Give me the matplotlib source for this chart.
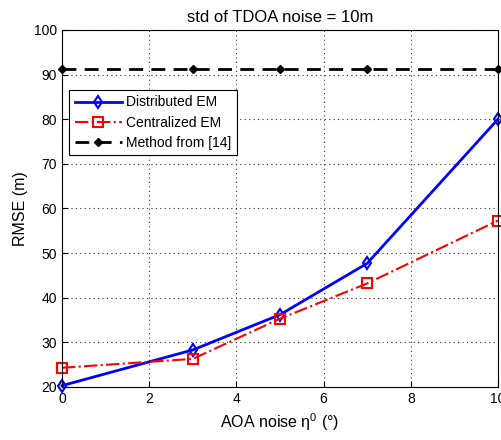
import matplotlib
matplotlib.use('Agg')
import matplotlib.pyplot as plt

# data
aoa_noise = [0, 3, 5, 7, 10]
rmse_distributed = [20.3, 28.3, 36.2, 47.7, 80.0]
rmse_centralized = [24.3, 26.3, 35.3, 43.2, 57.3]
rmse_method14 = [91.3, 91.3, 91.3, 91.3, 91.3]

plt.rcParams['font.family'] = ['Liberation Sans', 'DejaVu Sans']
plt.rcParams['font.size'] = 10

fig = plt.figure(figsize=(5.02, 4.4), dpi=100)
ax = fig.add_axes([0.1235, 0.1205, 0.8685, 0.8115])

ax.plot(aoa_noise, rmse_distributed, '-', color='blue', lw=2, marker='d',
        mfc='none', mec='blue', ms=6, mew=1.5, label='Distributed EM', clip_on=False)
ax.plot(aoa_noise, rmse_centralized, '-.', color='red', lw=1.5, marker='s',
        mfc='none', mec='red', ms=7, mew=1.5, label='Centralized EM', clip_on=False)
ax.plot(aoa_noise, rmse_method14, '--', color='black', lw=2, marker='D',
        mfc='black', mec='black', ms=4.5, dashes=(5, 3), label='Method from [14]', clip_on=False)

ax.set_xlim(0, 10)
ax.set_ylim(20, 100)
ax.set_xticks([0, 2, 4, 6, 8, 10])
ax.set_yticks(range(20, 101, 10))
ax.grid(True, linestyle=(0, (1, 3)), color='#333333', lw=0.8)
ax.tick_params(direction='in', length=4)
for s in ax.spines.values():
    s.set_linewidth(0.8)

ax.set_title('std of TDOA noise = 10m', fontsize=12, pad=6)
ax.set_xlabel(r'AOA noise $\mathregular{\eta^0}$ (°)', fontsize=11.5)
ax.set_ylabel('RMSE (m)', fontsize=11.5)

leg = ax.legend(loc='upper left', bbox_to_anchor=(0.01, 0.84), fancybox=False,
                edgecolor='black', framealpha=1, borderaxespad=0.2,
                handlelength=3.4, handletextpad=0.3, labelspacing=0.45)
leg.get_frame().set_linewidth(0.8)

fig.savefig('out.png', dpi=100)
